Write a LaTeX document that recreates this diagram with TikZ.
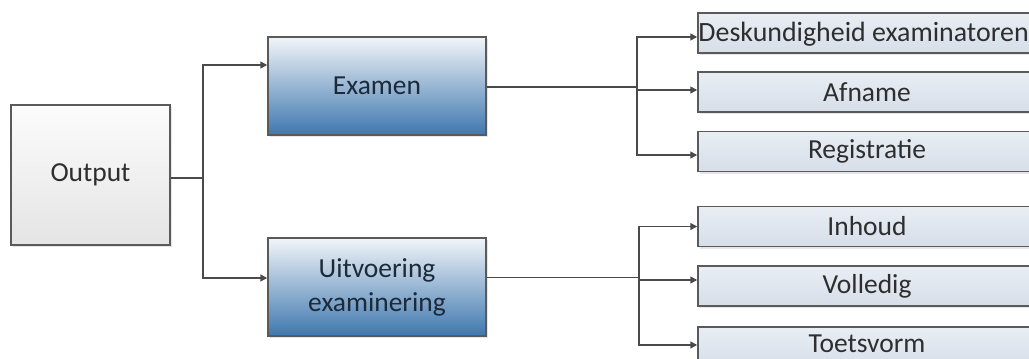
\documentclass[tikz,border=0pt]{standalone}
\usepackage{fontspec}
\setmainfont{Carlito}
\usetikzlibrary{arrows.meta,shadows,calc}

\definecolor{linegrey}{HTML}{4A4A4A}
\definecolor{boxedge}{HTML}{5A5A5A}
\definecolor{outtop}{HTML}{FCFCFC}
\definecolor{outbot}{HTML}{E4E4E4}
\definecolor{maintop}{HTML}{F2F5F9}
\definecolor{mainbot}{HTML}{3E77AE}
\definecolor{subtop}{HTML}{E9EEF4}
\definecolor{subbot}{HTML}{D6DEE9}
\definecolor{maintext}{HTML}{1C2A3A}
\definecolor{subtext}{HTML}{2E2E2E}

\begin{document}
\begin{tikzpicture}[x=1pt, y=-1pt,
  every node/.style={font=\fontsize{27.5}{34}\selectfont, inner sep=0pt},
  outbox/.style={draw=boxedge, line width=1.5pt, top color=outtop, bottom color=outbot,
    text=subtext, minimum width=159pt, minimum height=140pt,
    drop shadow={opacity=0.2, shadow xshift=2pt, shadow yshift=-2pt}},
  mainbox/.style={draw=boxedge, line width=1.5pt, top color=maintop, bottom color=mainbot,
    text=maintext, align=center, minimum width=218pt, minimum height=98pt,
    drop shadow={opacity=0.2, shadow xshift=2pt, shadow yshift=-2pt}},
  subbox/.style={draw=boxedge, line width=1.5pt, top color=subtop, bottom color=subbot,
    text=subtext, minimum width=338pt, minimum height=40pt,
    drop shadow={opacity=0.2, shadow xshift=2pt, shadow yshift=-2pt}},
  link/.style={draw=linegrey, line width=1.5pt},
  arr/.style={link, -{Triangle[length=7pt, width=7pt]}}]

% Fix the page to the reference size
\clip (0,0) rectangle (1029,359);

% Left box
\node[outbox] (output) at (90.5,175) {Output};

% Middle boxes
\node[mainbox] (examen) at (377,86) {Examen};
\node[mainbox] (uitvoering) at (377,287) {Uitvoering\\examinering};

% Right boxes, cut off at the right edge
\node[subbox] (desk) at (867,33) {};
\node[anchor=west, text=subtext, font=\fontsize{27.9}{34}\selectfont] (desktext)
  at ($(desk.west)+(1,1)$) {Deskundigheid examinatoren};
\node[subbox] (afname) at (867,92) {Afname};
\node[subbox] (registratie) at (867,151.5) {Registratie};
\node[subbox] (inhoud) at (867,226.5) {Inhoud};
\node[subbox] (volledig) at (867,286) {Volledig};
\node[subbox] (toetsvorm) at (867,347) {};
\node[text=subtext] (toetstext) at (867,344) {Toetsvorm};

% Branch points
\coordinate (split1) at (203,178);
\coordinate (split2) at (637,87);
\coordinate (split3) at (639,277.5);

% Connectors
\draw[link] (output.east |- split1) -- (split1);
\draw[arr] (split1) |- ([yshift=21pt]examen.west);
\draw[arr] (split1) |- ([yshift=9pt]uitvoering.west);

\draw[link] (examen.east |- split2) -- (split2);
\draw[arr] (split2) |- ([yshift=-4pt]desk.west);
\draw[arr] (split2) |- ([yshift=2pt]afname.west);
\draw[arr] (split2) |- ([yshift=-3.5pt]registratie.west);

\draw[link] ([yshift=9.5pt]uitvoering.east) -- (split3);
\draw[arr] (split3) |- (inhoud.west);
\draw[arr] (split3) |- ([yshift=6pt]volledig.west);
\draw[arr] (split3) |- ([yshift=2pt]toetsvorm.west);
\end{tikzpicture}
\end{document}
